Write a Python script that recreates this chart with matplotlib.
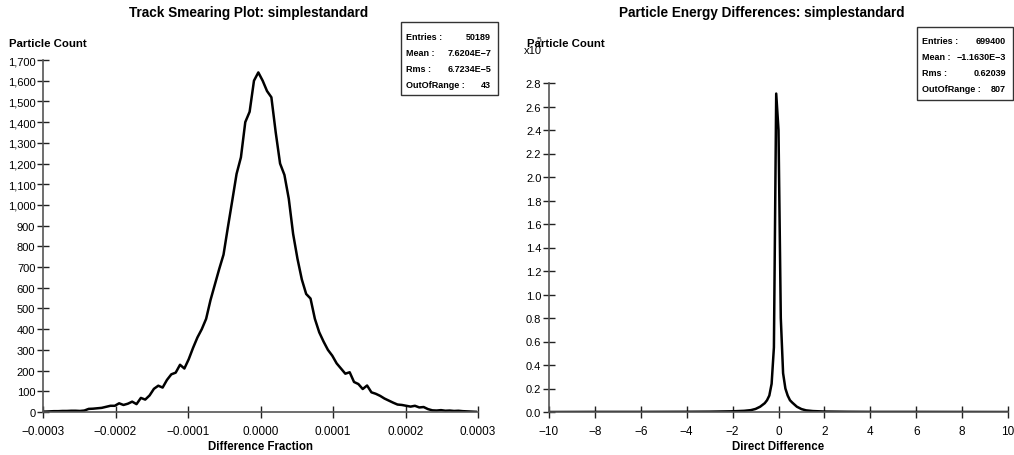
import numpy as np
import matplotlib.pyplot as plt
from matplotlib.ticker import FuncFormatter

plt.rcParams['font.family'] = ['Liberation Sans', 'DejaVu Sans']

# Track smearing histogram: 100 bins over [-0.0003, 0.0003]
smear_lo, smear_hi, smear_nbins = -0.0003, 0.0003, 100
smear_counts = [
    2, 3, 4, 4, 5, 5, 6, 6, 5, 7,
    15, 16, 18, 20, 25, 30, 30, 42, 34, 40,
    50, 38, 68, 60, 80, 112, 127, 118, 155, 182,
    190, 228, 210, 255, 310, 360, 400, 450, 540, 615,
    690, 760, 892, 1020, 1150, 1230, 1400, 1450, 1600, 1640,
    1600, 1550, 1520, 1350, 1200, 1145, 1030, 860, 740, 640,
    570, 548, 450, 385, 340, 300, 272, 235, 210, 185,
    192, 145, 135, 111, 128, 95, 88, 78, 65, 55,
    45, 36, 34, 30, 26, 30, 22, 24, 14, 8,
    7, 9, 6, 7, 5, 6, 4, 3, 2, 1,
]
smear_stats = [('Entries :', '50189'), ('Mean :', '7.6204E\u22127'),
               ('Rms :', '6.7234E\u22125'), ('OutOfRange :', '43')]

# Energy differences (counts in units of 1e5)
energy_x = [-10, -8, -6, -4, -3, -2, -1.5, -1.2, -1.0, -0.8, -0.6, -0.5, -0.4,
            -0.3, -0.2, -0.1, 0.0, 0.1, 0.2, 0.3, 0.4, 0.5, 0.6, 0.8, 1.0,
            1.2, 1.5, 2, 3, 4, 6, 8, 10]
energy_y = [0.0, 0.001, 0.001, 0.002, 0.003, 0.006, 0.01, 0.016, 0.026, 0.045,
            0.075, 0.1, 0.14, 0.24, 0.55, 2.71, 2.40, 0.8, 0.33, 0.2, 0.14,
            0.1, 0.08, 0.045, 0.025, 0.014, 0.008, 0.004, 0.002, 0.001,
            0.001, 0.0005, 0.0]
energy_stats = [('Entries :', '699400'), ('Mean :', '\u22121.1630E\u22123'),
                ('Rms :', '0.62039'), ('OutOfRange :', '807')]


def style_axes(ax):
    for s in ['top', 'right']:
        ax.spines[s].set_visible(False)
    for s in ['left', 'bottom']:
        ax.spines[s].set_color('#555555')
        ax.spines[s].set_linewidth(1.2)
    ax.tick_params(direction='inout', length=9, width=1, color='#222222')
    ax.tick_params(axis='x', labelsize=8.5, pad=5)
    ax.tick_params(axis='y', labelsize=8, pad=1)


def stats_box(fig, x0, y0, w, rows):
    # box in figure pixel coords (from top-left)
    W, H = fig.bbox.width, fig.bbox.height
    h = 16 * len(rows) + 9
    rect = plt.Rectangle((x0 / W, 1 - (y0 + h) / H), w / W, h / H,
                         transform=fig.transFigure, fill=False,
                         edgecolor='#333333', linewidth=1)
    fig.add_artist(rect)
    for k, (lab, val) in enumerate(rows):
        yy = 1 - (y0 + 14 + 16 * k) / H
        fig.text((x0 + 5) / W, yy, lab, fontsize=6.5, fontweight='bold',
                 va='center', ha='left')
        fig.text((x0 + w - 7) / W, yy, val, fontsize=6.5, fontweight='bold',
                 va='center', ha='right')


fig = plt.figure(figsize=(10.14, 4.56), dpi=100)

# left panel
ax1 = fig.add_axes([43 / 1014, 43 / 456, 435 / 1014, 352 / 456])
edges = np.linspace(smear_lo, smear_hi, smear_nbins + 1)
centers = 0.5 * (edges[:-1] + edges[1:])
ax1.plot(centers, smear_counts, color='black', linewidth=1.8)
ax1.set_xlim(smear_lo, smear_hi)
ax1.set_ylim(0, 1700)
ax1.set_xticks(np.arange(-0.0003, 0.00031, 0.0001))
ax1.set_yticks(np.arange(0, 1701, 100))
ax1.xaxis.set_major_formatter(FuncFormatter(lambda v, p: ('%.4f' % v).replace('-', '\u2212') if abs(v) > 1e-12 else '0.0000'))
ax1.yaxis.set_major_formatter(FuncFormatter(lambda v, p: '{:,}'.format(int(round(v)))))
style_axes(ax1)
ax1.set_xlabel('Difference Fraction', fontsize=8.3, fontweight='bold', labelpad=2)
fig.text(249 / 1014, 1 - 13 / 456, 'Track Smearing Plot: simplestandard',
         fontsize=9.8, fontweight='bold', ha='center', va='center')
fig.text(9 / 1014, 1 - 44 / 456, 'Particle Count', fontsize=8.2,
         fontweight='bold', ha='left', va='center')
stats_box(fig, 401, 23, 97, smear_stats)

# right panel
ax2 = fig.add_axes([549 / 1014, 43 / 456, 459 / 1014, 329 / 456])
ax2.plot(energy_x, energy_y, color='black', linewidth=1.8)
ax2.set_xlim(-10, 10)
ax2.set_ylim(0, 2.8)
ax2.set_xticks(np.arange(-10, 11, 2))
ax2.set_yticks(np.arange(0, 2.81, 0.2))
ax2.xaxis.set_major_formatter(FuncFormatter(lambda v, p: ('%d' % round(v)).replace('-', '\u2212')))
ax2.yaxis.set_major_formatter(FuncFormatter(lambda v, p: '%.1f' % v))
style_axes(ax2)
ax2.set_xlabel('Direct Difference', fontsize=8.3, fontweight='bold', labelpad=2)
fig.text(762 / 1014, 1 - 13 / 456, 'Particle Energy Differences: simplestandard',
         fontsize=9.8, fontweight='bold', ha='center', va='center')
fig.text(527 / 1014, 1 - 44 / 456, 'Particle Count', fontsize=8.2,
         fontweight='bold', ha='left', va='center')
fig.text(524 / 1014, 1 - 51 / 456, 'x10', fontsize=8, ha='left', va='center')
fig.text(537 / 1014, 1 - 40 / 456, '5', fontsize=6, ha='left', va='center')
stats_box(fig, 917, 28, 96, energy_stats)

fig.savefig('out.png', dpi=100)
